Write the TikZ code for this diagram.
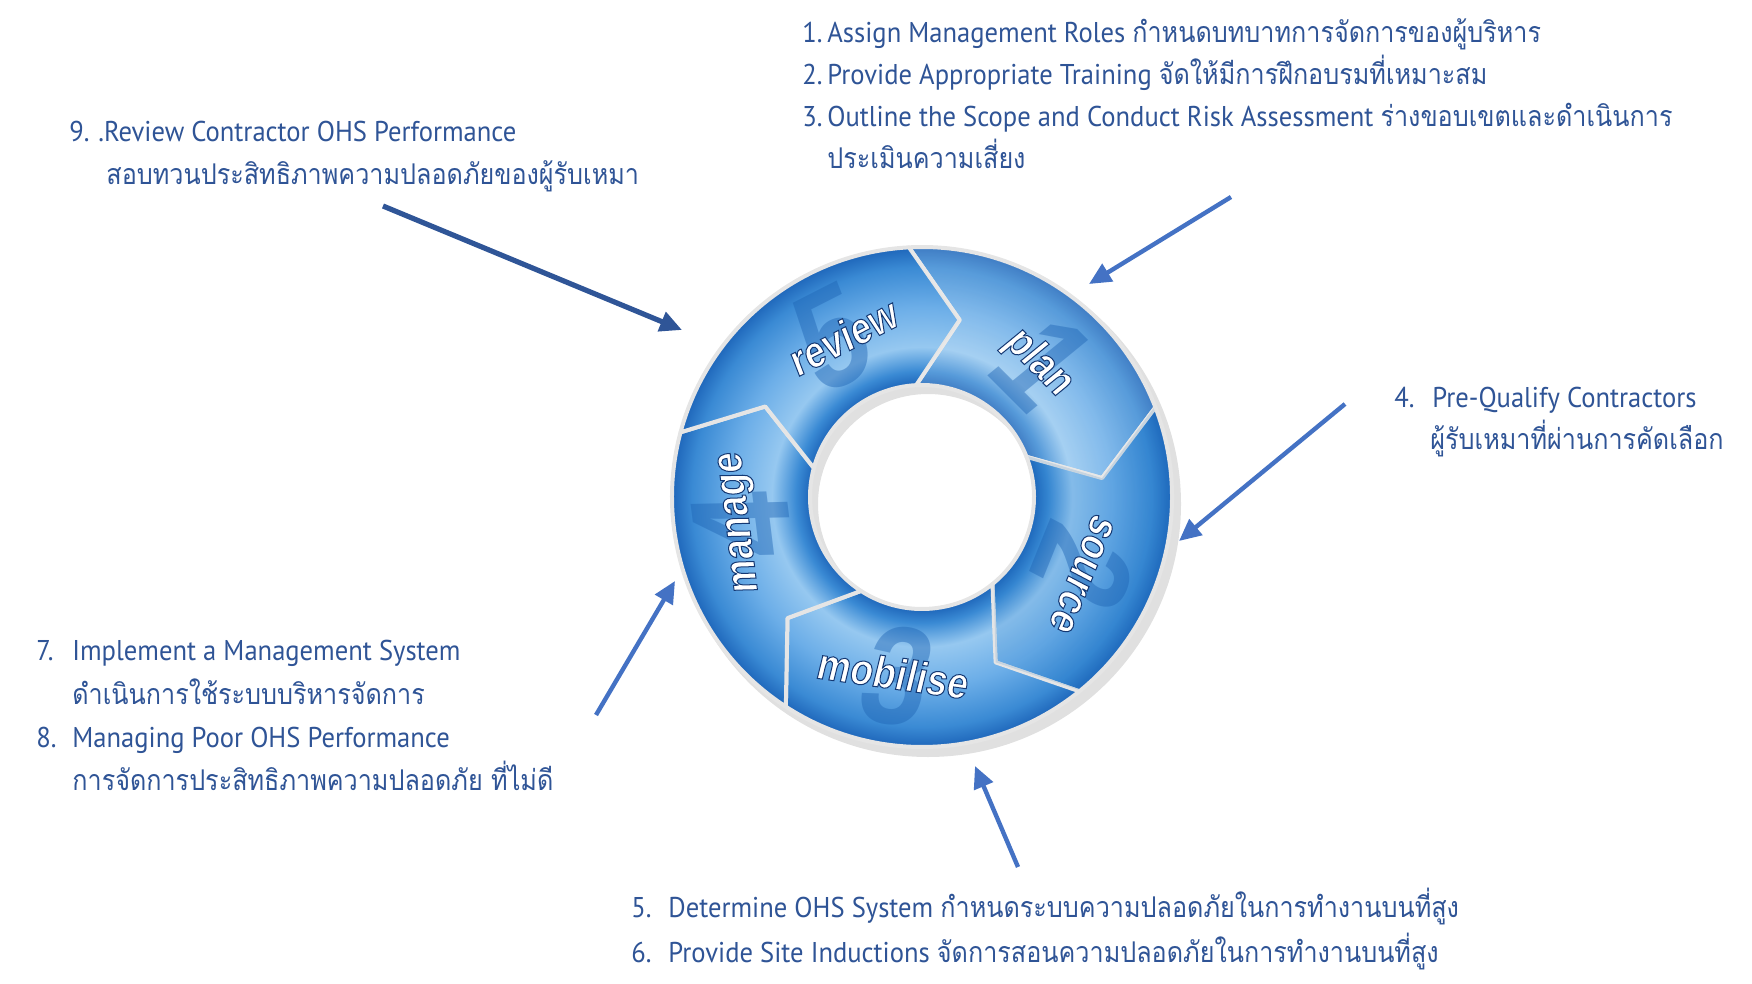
\documentclass[tikz,border=0pt]{standalone}
\usepackage{fontspec}
\usepackage{tikz}
\usetikzlibrary{arrows.meta}

\setmainfont{PT Sans}[FakeStretch=0.93]
\newfontfamily\thaifont[Script=Thai,FakeStretch=0.88]{Loma}
\newfontfamily\wheelfont[FakeStretch=0.85,FakeSlant=0.1]{Liberation Sans}
\newcommand{\thai}[1]{{\thaifont #1}}
\newcommand{\outl}[1]{\special{pdf:literal direct 2 Tr 0.5 w 0.08 0.22 0.45 RG}#1\special{pdf:literal direct 0 Tr}}

\definecolor{txtblue}{RGB}{47,84,150}
\definecolor{arrblue}{RGB}{68,114,196}
\definecolor{arrdark}{RGB}{47,85,151}
\definecolor{wedge}{RGB}{30,102,186}
\definecolor{wdeep}{RGB}{58,138,212}
\definecolor{wlight}{RGB}{150,200,240}
\definecolor{wmid}{RGB}{108,174,232}
\definecolor{numblue}{RGB}{30,100,180}
\pgfdeclareradialshading{wheelshade}{\pgfpoint{0bp}{0bp}}{color(0bp)=(wedge); color(11.2bp)=(wedge); color(12.6bp)=(wdeep); color(15bp)=(wlight); color(19bp)=(wmid); color(23bp)=(wdeep); color(25bp)=(wedge); color(50bp)=(wedge)}

\tikzset{
  txt/.style={anchor=base west, inner sep=0pt, text=txtblue, font=\fontsize{14.3}{18}\selectfont},
  link/.style={arrblue, line width=2.2pt, -{Triangle[length=11pt,width=10pt]}},
  linkdark/.style={arrdark, line width=2.6pt, -{Triangle[length=11pt,width=10pt]}},
  steplabel/.style={inner sep=0pt, text=white, font=\wheelfont\bfseries\fontsize{22}{22}\selectfont},
  stepnum/.style={inner sep=0pt, text=numblue, text opacity=0.45, font=\wheelfont\bfseries\fontsize{70}{70}\selectfont}
}

\begin{document}
\begin{tikzpicture}[x=0.5pt, y=0.5pt]
  \useasboundingbox (0,0) rectangle (1752,-984);

  % the wheel
  \begin{scope}[shift={(922,-497)}]
    \fill[black, opacity=0.12, even odd rule] (6,-7) circle (253) (6,-7) circle (110);
    \foreach \a in {93,21,-51,-123,-195} {
      \pgfmathsetmacro\b{\a-72}
      \pgfmathsetmacro\bt{\a-87}
      \pgfmathsetmacro\at{\a-15}
      \begin{scope}
        \clip (\a:250) arc[start angle=\a, end angle=\b, radius=250] -- (\bt:181) -- (\b:112)
          arc[start angle=\b, end angle=\a, radius=112] -- (\at:181) -- cycle;
        \shade[shading=wheelshade] (0,0) circle (250);
      \end{scope}
      \draw[white!80!gray, line width=2pt, line join=round] (\a:250) arc[start angle=\a, end angle=\b, radius=250]
        -- (\bt:181) -- (\b:112) arc[start angle=\b, end angle=\a, radius=112] -- (\at:181) -- cycle;
    }
    % plan is lighter, source deeper
    \fill[white, opacity=0.15] (93:248) arc[start angle=93, end angle=21, radius=248] -- (6:181) -- (21:114)
      arc[start angle=21, end angle=93, radius=114] -- (78:181) -- cycle;
    \fill[cyan!50!blue, opacity=0.14] (21:248) arc[start angle=21, end angle=-51, radius=248] -- (-66:181) -- (-51:114)
      arc[start angle=-51, end angle=21, radius=114] -- (6:181) -- cycle;
  \end{scope}

  % big numbers behind the words
  \node[stepnum, rotate=-45] (num1) at (1040,-360) {1};
  \node[stepnum, rotate=-112] (num2) at (1085,-563) {2};
  \node[stepnum, rotate=-8] (num3) at (893,-675) {3};
  \node[stepnum, rotate=97] (num4) at (743,-530) {4};
  \node[stepnum, rotate=27] (num5) at (828,-340) {5};

  % words on the wheel
  \node[steplabel, rotate=-45] (plan) at (1038,-362) {\outl{plan}};
  \node[steplabel, rotate=-112] (source) at (1082,-573) {\outl{source}};
  \node[steplabel, rotate=-8] (mobilise) at (892,-673) {\outl{mobilise}};
  \node[steplabel, rotate=97] (manage) at (742,-523) {\outl{manage}};
  \node[steplabel, rotate=27] (review) at (842,-337) {\outl{review}};

  % texts
  \node[txt] (n1) at (802,-43) {1.};
  \node[txt] (t1) at (827,-43) {Assign Management Roles \thai{กำหนดบทบาทการจัดการของผู้บริหาร}};
  \node[txt] (n2) at (802,-85) {2.};
  \node[txt] (t2) at (827,-85) {Provide Appropriate Training \thai{จัดให้มีการฝึกอบรมที่เหมาะสม}};
  \node[txt] (n3) at (802,-127) {3.};
  \node[txt] (t3) at (827,-127) {Outline the Scope and Conduct Risk Assessment \thai{ร่างขอบเขตและดำเนินการ}};
  \node[txt] (t3b) at (827,-169) {\thai{ประเมินความเสี่ยง}};

  \node[txt] (n9) at (69,-142) {9.};
  \node[txt] (t9) at (98,-142) {.Review Contractor OHS Performance};
  \node[txt] (t9b) at (106,-185) {\thai{สอบทวนประสิทธิภาพความปลอดภัยของผู้รับเหมา}};

  \node[txt] (n4) at (1394,-408) {4.};
  \node[txt] (t4) at (1432,-408) {Pre-Qualify Contractors};
  \node[txt] (t4b) at (1430,-450) {\thai{ผู้รับเหมาที่ผ่านการคัดเลือก}};

  \node[txt] (n7) at (36,-660) {7.};
  \node[txt] (t7) at (72,-660) {Implement a Management System};
  \node[txt] (t7b) at (72,-704) {\thai{ดำเนินการใช้ระบบบริหารจัดการ}};
  \node[txt] (n8) at (36,-747) {8.};
  \node[txt] (t8) at (72,-747) {Managing Poor OHS Performance};
  \node[txt] (t8b) at (72,-790) {\thai{การจัดการประสิทธิภาพความปลอดภัย ที่ไม่ดี}};

  \node[txt] (n5) at (631,-917) {5.};
  \node[txt] (t5) at (668,-917) {Determine OHS System \thai{กำหนดระบบความปลอดภัยในการทำงานบนที่สูง}};
  \node[txt] (n6) at (631,-962) {6.};
  \node[txt] (t6) at (668,-962) {Provide Site Inductions \thai{จัดการสอนความปลอดภัยในการทำงานบนที่สูง}};

  % pointers
  \coordinate (planA) at (1231,-197);
  \coordinate (planB) at (1089,-284);
  \coordinate (revA) at (383,-206);
  \coordinate (revB) at (682,-330);
  \coordinate (srcA) at (1345,-404);
  \coordinate (srcB) at (1179,-541);
  \coordinate (manA) at (596,-715);
  \coordinate (manB) at (675,-581);
  \coordinate (mobA) at (1018,-867);
  \coordinate (mobB) at (975,-766);
  \draw[link] (planA) -- (planB);
  \draw[linkdark] (revA) -- (revB);
  \draw[link] (srcA) -- (srcB);
  \draw[link] (manA) -- (manB);
  \draw[link] (mobA) -- (mobB);
\end{tikzpicture}
\end{document}
